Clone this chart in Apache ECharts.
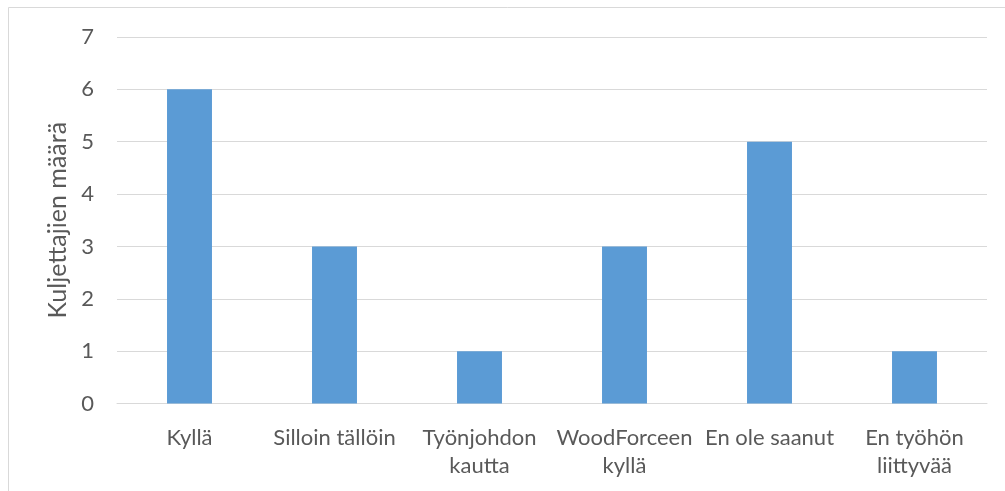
<!DOCTYPE html>
<html>
<head>
<meta charset="utf-8">
<script src="https://cdn.jsdelivr.net/npm/echarts@6/dist/echarts.min.js"></script>
<style>
  html, body { margin: 0; padding: 0; background: #ffffff; }
  #chart { width: 1005px; height: 491px; }
</style>
</head>
<body>
<div id="chart"></div>
<script>
// Vastaukset: kuljettajien määrä vastausvaihtoehdoittain
const categories = [
  'Kyllä',
  'Silloin tällöin',
  'Työnjohdon\nkautta',
  'WoodForceen\nkyllä',
  'En ole saanut',
  'En työhön\nliittyvää'
];
const counts = [6, 3, 1, 3, 5, 1];
const yTicks = { min: 0, max: 7, interval: 1 };
const yTitle = 'Kuljettajien määrä';

const textColor = '#595959';
const gridColor = '#d9d9d9';
const barColor = '#5b9bd5';
const fontFamily = 'Lato, "Open Sans", sans-serif';

const chart = echarts.init(document.getElementById('chart'), null, { renderer: 'canvas' });
chart.setOption({
  animation: false,
  backgroundColor: '#ffffff',
  graphic: [{
    type: 'rect',
    shape: { x: 8.5, y: 7.5, width: 1010, height: 500 },
    style: { fill: 'none', stroke: gridColor, lineWidth: 1 },
    silent: true,
    z: -1
  }],
  grid: { left: 117, right: 18, top: 37, bottom: 87.5, containLabel: false },
  xAxis: {
    type: 'category',
    data: categories,
    axisLine: { show: true, lineStyle: { color: gridColor, width: 1 } },
    axisTick: { show: false },
    axisLabel: {
      color: textColor,
      fontFamily: fontFamily,
      fontSize: 22,
      lineHeight: 28,
      margin: 20,
      interval: 0
    }
  },
  yAxis: {
    type: 'value',
    min: yTicks.min,
    max: yTicks.max,
    interval: yTicks.interval,
    name: yTitle,
    nameLocation: 'middle',
    nameGap: 44,
    nameTextStyle: { color: textColor, fontFamily: fontFamily, fontSize: 25 },
    axisLine: { show: false },
    axisTick: { show: false },
    splitLine: { lineStyle: { color: gridColor, width: 1 } },
    axisLabel: { color: textColor, fontFamily: fontFamily, fontSize: 22, margin: 23 }
  },
  series: [{
    type: 'bar',
    data: counts,
    barWidth: '31%',
    itemStyle: { color: barColor }
  }]
});
</script>
</body>
</html>
